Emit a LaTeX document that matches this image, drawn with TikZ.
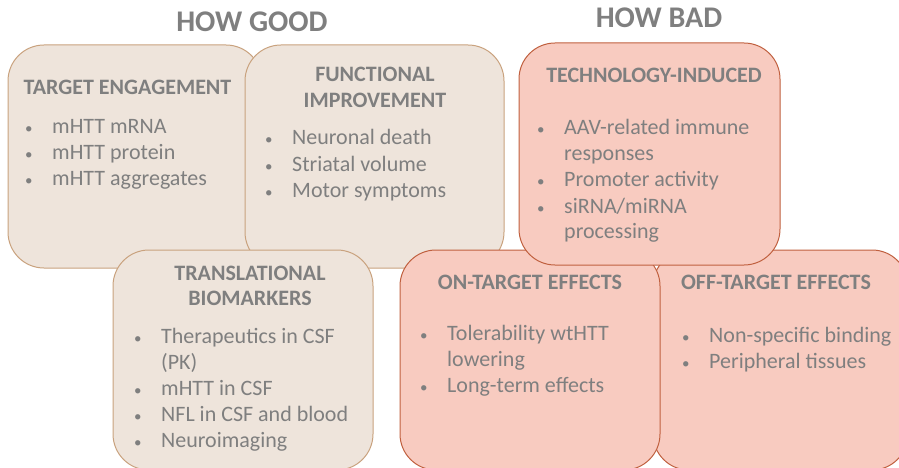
\documentclass[tikz,border=0pt]{standalone}
\usepackage{fontspec}
\setmainfont{Carlito}
\usetikzlibrary{positioning}
\definecolor{goodfill}{HTML}{EEE4DB}
\definecolor{gooddraw}{HTML}{C9A27E}
\definecolor{badfill}{HTML}{F8CBC0}
\definecolor{baddraw}{HTML}{C0603F}
\definecolor{txtgray}{HTML}{7F7F7F}
\newcommand{\bul}{{\fontsize{15}{26}\selectfont\textbullet}}
\newcommand{\itemlist}[1]{\begin{tabular}[t]{@{}p{27pt}@{}l@{}}#1\end{tabular}}
\newcommand{\titlelist}[1]{\begin{tabular}[t]{@{}c@{}}#1\end{tabular}}
\begin{document}
\begin{tikzpicture}[x=1pt,y=-1pt,
  goodbox/.style={draw=gooddraw,fill=goodfill,line width=1pt,rounded corners=36pt,minimum height=222pt,minimum width=258pt,inner sep=0pt},
  badbox/.style={draw=baddraw,fill=badfill,line width=1pt,rounded corners=36pt,minimum height=222pt,minimum width=260pt,inner sep=0pt},
  heading/.style={text=txtgray,font=\fontsize{30}{34}\selectfont\bfseries,inner sep=0pt,anchor=base},
  boxtitle/.style={text=txtgray,font=\fontsize{22}{25.5}\selectfont\bfseries,inner sep=0pt,anchor=base},
  boxitems/.style={text=txtgray,font=\fontsize{22}{26}\selectfont,inner sep=0pt,anchor=base west}]

\clip (0,0) rectangle (899,468);

% how good
\node[heading] (good) at (252,32) {HOW GOOD};
\node[goodbox,minimum width=254pt,minimum height=223pt] (engage) at (135,156.5) {};
\node[goodbox,minimum width=259pt,minimum height=223pt] (funct) at (374.5,156.5) {};
\node[goodbox,minimum width=260pt,minimum height=220pt] (transl) at (243,360) {};

\node[boxtitle] (engagett) at (127.5,95) {TARGET ENGAGEMENT};
\node[boxitems] (engageit) at (25,133) {\itemlist{\bul & mHTT mRNA\\ \bul & mHTT protein\\ \bul & mHTT aggregates}};

\node[boxtitle] (functtt) at (375,82) {\titlelist{FUNCTIONAL\\ IMPROVEMENT}};
\node[boxitems] (functit) at (265,145) {\itemlist{\bul & Neuronal death\\ \bul & Striatal volume\\ \bul & Motor symptoms}};

\node[boxtitle] (transltt) at (250,280) {\titlelist{TRANSLATIONAL\\ BIOMARKERS}};
\node[boxitems] (translit) at (134,343) {\itemlist{\bul & Therapeutics in CSF\\ & (PK)\\ \bul & mHTT in CSF\\ \bul & NFL in CSF and blood\\ \bul & Neuroimaging}};

% how bad
\node[heading] (bad) at (659,28) {HOW BAD};
\node[badbox,minimum width=255pt,minimum height=220pt] (offt) at (780.5,360) {};
\node[badbox,minimum width=260pt,minimum height=220pt] (ont) at (530,360) {};
\node[badbox,minimum width=261pt,minimum height=222pt] (techn) at (649.5,154) {};

\node[boxtitle] (techntt) at (654,83) {TECHNOLOGY-INDUCED};
\node[boxitems] (technit) at (537,135) {\itemlist{\bul & AAV-related immune\\ & responses\\ \bul & Promoter activity\\ \bul & siRNA/miRNA\\ & processing}};

\node[boxtitle] (ontt) at (530,289) {ON-TARGET EFFECTS};
\node[boxitems] (ontit) at (420,340) {\itemlist{\bul & Tolerability wtHTT\\ & lowering\\ \bul & Long-term effects}};

\node[boxtitle] (offtt) at (776,289) {OFF-TARGET EFFECTS};
\node[boxitems] (offtit) at (682,342) {\itemlist{\bul & Non-specific binding\\ \bul & Peripheral tissues}};
\end{tikzpicture}
\end{document}
